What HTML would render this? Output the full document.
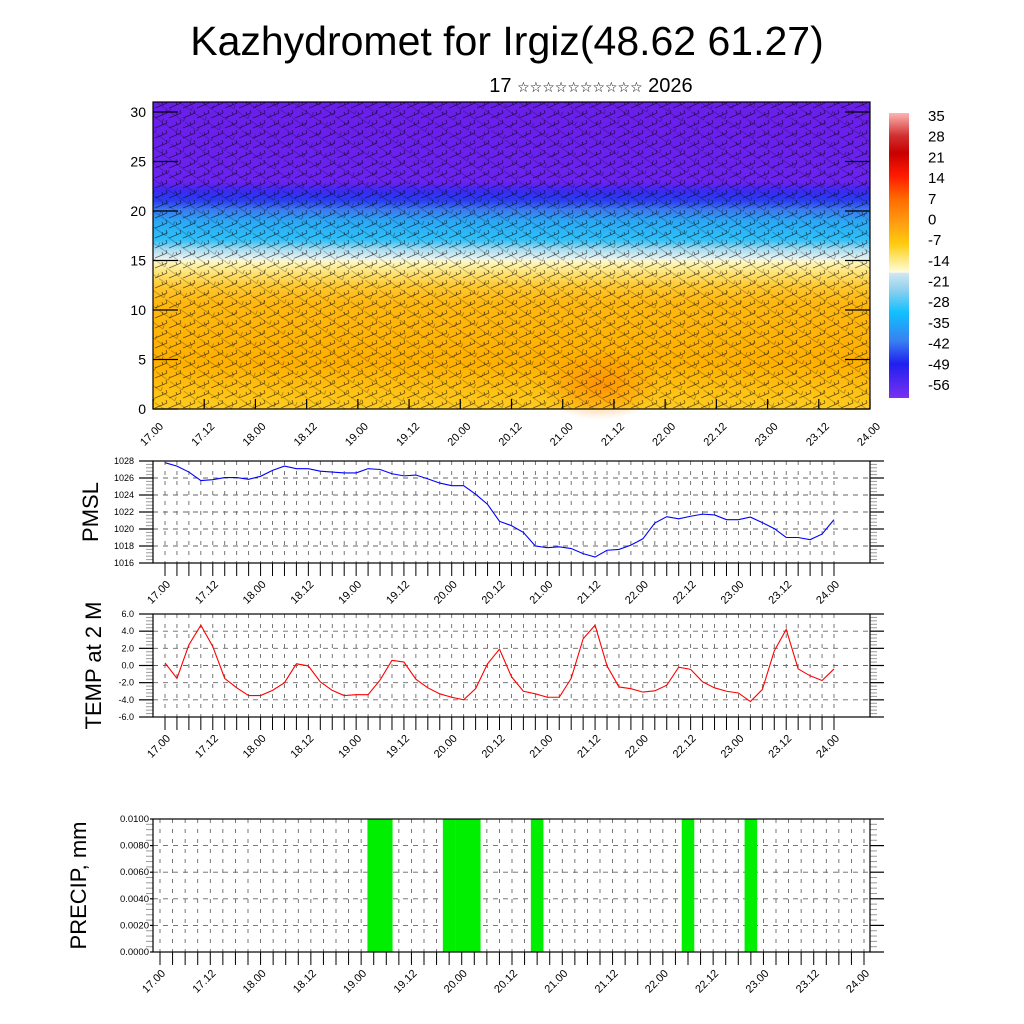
<!DOCTYPE html>
<html><head><meta charset="utf-8"><style>
body{margin:0;background:#fff;}
svg{display:block;font-family:"Liberation Sans","DejaVu Sans",sans-serif;}
</style></head><body>
<svg id="chart" width="1024" height="1024" viewBox="0 0 1024 1024" xmlns="http://www.w3.org/2000/svg">
<defs>
<linearGradient id="tgrad" x1="0" y1="0" x2="0" y2="1">
<stop offset="0" stop-color="#6a1fe8"/><stop offset="0.26" stop-color="#6a22ee"/>
<stop offset="0.29" stop-color="#3a2af0"/><stop offset="0.32" stop-color="#2a3cf0"/>
<stop offset="0.35" stop-color="#3c78ee"/><stop offset="0.39" stop-color="#2aa8f5"/>
<stop offset="0.45" stop-color="#30c0f8"/><stop offset="0.48" stop-color="#a8dcf0"/>
<stop offset="0.51" stop-color="#e8f2f0"/><stop offset="0.52" stop-color="#fff8c0"/>
<stop offset="0.55" stop-color="#ffe680"/><stop offset="0.6" stop-color="#ffc830"/>
<stop offset="0.65" stop-color="#ffb812"/><stop offset="0.85" stop-color="#ffb000"/>
<stop offset="1" stop-color="#ffcc20"/>
</linearGradient>
<linearGradient id="cgrad" x1="0" y1="0" x2="0" y2="1">
<stop offset="0" stop-color="#ffb4b4"/><stop offset="0.08" stop-color="#d03030"/>
<stop offset="0.14" stop-color="#c80000"/><stop offset="0.22" stop-color="#ff1a00"/>
<stop offset="0.3" stop-color="#ff6a00"/><stop offset="0.38" stop-color="#ff9a10"/>
<stop offset="0.46" stop-color="#ffcc10"/><stop offset="0.53" stop-color="#fff0a0"/>
<stop offset="0.56" stop-color="#fffce0"/><stop offset="0.561" stop-color="#d0e8f4"/>
<stop offset="0.62" stop-color="#90d0ee"/><stop offset="0.7" stop-color="#10c0ff"/>
<stop offset="0.8" stop-color="#3880f0"/><stop offset="0.88" stop-color="#2020f0"/>
<stop offset="1" stop-color="#7a30f0"/>
</linearGradient>
<pattern id="barbs" width="14" height="10" patternUnits="userSpaceOnUse">
<path d="M1 8 L13 3 M13 3 L12 0 M9 5 L8 2" stroke="#000" stroke-width="0.8" fill="none" opacity="0.6"/>
</pattern>
<pattern id="barbs2" width="17" height="13" patternUnits="userSpaceOnUse" patternTransform="rotate(35)">
<path d="M1 7 L16 7 M16 7 L15 3" stroke="#000" stroke-width="0.6" fill="none" opacity="0.45"/>
</pattern>
<radialGradient id="blob"><stop offset="0" stop-color="#ff8800" stop-opacity="0.8"/><stop offset="1" stop-color="#ff8800" stop-opacity="0"/></radialGradient>
</defs>
<text x="507" y="55" font-size="41" text-anchor="middle">Kazhydromet for Irgiz(48.62 61.27)</text>
<text x="591" y="92" font-size="20" text-anchor="middle">17 <tspan font-size="14">☆☆☆☆☆☆☆☆☆☆</tspan> 2026</text>
<g id="top">
<rect x="153" y="102" width="717" height="307" fill="url(#tgrad)"/>
<ellipse cx="600" cy="385" rx="60" ry="35" fill="url(#blob)"/>
<rect x="153" y="102" width="717" height="307" fill="url(#barbs)"/>
<rect x="153" y="102" width="717" height="307" fill="url(#barbs2)"/>
<rect x="153" y="102" width="717" height="307" fill="none" stroke="#000" stroke-width="1.2"/>
</g>
<g>
<rect x="889" y="113" width="20" height="285" fill="url(#cgrad)"/>
</g>
<g id="dyn"></g>
</svg>
<script>
const times=['17.00','17.12','18.00','18.12','19.00','19.12','20.00','20.12','21.00','21.12','22.00','22.12','23.00','23.12','24.00'];
const heightTicks=[0,5,10,15,20,25,30];
const cbLabels=['35','28','21','14','7','0','-7','-14','-21','-28','-35','-42','-49','-56'];
const pmsl=[1027.8,1027.4,1026.7,1025.7,1025.8,1026.05,1026.05,1025.85,1026.2,1026.9,1027.4,1027.1,1027.1,1026.8,1026.7,1026.6,1026.6,1027.1,1027.0,1026.5,1026.25,1026.35,1025.9,1025.4,1025.1,1025.1,1024.1,1022.9,1020.9,1020.4,1019.6,1018.0,1017.8,1017.9,1017.7,1017.1,1016.7,1017.5,1017.6,1018.1,1018.85,1020.7,1021.45,1021.2,1021.5,1021.75,1021.65,1021.1,1021.1,1021.4,1020.75,1020.05,1019.0,1019.0,1018.75,1019.4,1021.1];
const pmslTicks=[1016,1018,1020,1022,1024,1026,1028];
const temp=[0.3,-1.5,2.4,4.7,2.2,-1.5,-2.6,-3.5,-3.5,-2.9,-2.0,0.2,-0.05,-1.9,-2.9,-3.5,-3.4,-3.4,-1.7,0.6,0.4,-1.6,-2.6,-3.3,-3.7,-4.0,-2.7,0.2,1.9,-1.3,-3.0,-3.3,-3.7,-3.7,-1.5,3.1,4.7,-0.05,-2.5,-2.7,-3.1,-2.95,-2.3,-0.2,-0.45,-1.9,-2.6,-3.0,-3.2,-4.2,-2.8,1.7,4.2,-0.4,-1.2,-1.75,-0.4];
const tempTicks=['-6.0','-4.0','-2.0','0.0','2.0','4.0','6.0'];
const precip=[0,0,0,0,0,0,0,0,0,0,0,0,0,0,0,0,0,0.02,0.02,0,0,0,0,0.02,0.02,0.02,0,0,0,0,0.02,0,0,0,0,0,0,0,0,0,0,0,0.02,0,0,0,0,0.02,0,0,0,0,0,0,0,0,0];
const precipTicks=['0.0000','0.0020','0.0040','0.0060','0.0080','0.0100'];

const NS='http://www.w3.org/2000/svg';
const root=document.getElementById('dyn');
function mk(tag,attrs,parent){const e=document.createElementNS(NS,tag);for(const k in attrs)e.setAttribute(k,attrs[k]);(parent||root).appendChild(e);return e;}

const tx=v=>153+v*717/14, ty=v=>409-v*(409-112)/30;
heightTicks.forEach(h=>{
  const l=mk('line',{x1:153,x2:178,y1:ty(h),y2:ty(h),stroke:'#000','stroke-width':1.2});
  
  
  const r=mk('line',{x1:845,x2:870,y1:ty(h),y2:ty(h),stroke:'#000','stroke-width':1.2});
  
  
  const t=mk('text',{x:146,y:ty(h)+5,'font-size':14,'text-anchor':'end'});t.textContent=h;
  
  
});
function timeLabels(x0,x1,y,n,dx){
  times.forEach((s,k)=>{
    const x=x0+k*(x1-x0)/(times.length-1)+dx;
    const t=mk('text',{x:x,y:y,'font-size':n,'text-anchor':'end',transform:`rotate(-45 ${x} ${y})`});t.textContent=s;
    
    
  });
}
times.forEach((s,k)=>{
  const l=mk('line',{x1:tx(k),x2:tx(k),y1:409,y2:399,stroke:'#000','stroke-width':1.2});
  
  
});
timeLabels(153,870,427,11,11);
cbLabels.forEach((s,k)=>{
  const t=mk('text',{x:928,y:121+k*(385-116)/13,'font-size':15});t.textContent=s;
  
  
});

function panel(o){
  const g=mk('g',{});
  
  
  const N=57;
  const X=i=>o.ax0+i*(o.ax1-o.ax0)/(N-1);
  const Y=v=>o.bot-(v-o.min)*(o.bot-o.top)/(o.max-o.min);
  mk('rect',{x:153,y:o.top,width:717,height:o.bot-o.top,fill:'#fff'},g);
  for(let i=0;i<N;i++){
    const v=mk('line',{x1:X(i),x2:X(i),y1:o.top,y2:o.bot,stroke:'#555','stroke-width':0.8,'stroke-dasharray':'4 6'},g);
    
    
    const t=mk('line',{x1:X(i),x2:X(i),y1:o.bot,y2:o.bot+13,stroke:'#000','stroke-width':1},g);
    
    
  }
  o.ticks.forEach((lab,k)=>{
    const v=o.min+k*(o.max-o.min)/(o.ticks.length-1);const y=Y(v);
    if(k>0&&k<o.ticks.length-1){const h=mk('line',{x1:153,x2:870,y1:y,y2:y,stroke:'#666','stroke-width':0.9,'stroke-dasharray':'5 5'},g);
      
      }
    const a=mk('line',{x1:o.tickx,x2:153,y1:y,y2:y,stroke:'#000','stroke-width':1.2},g);
    
    
    const b=mk('line',{x1:870,x2:884,y1:y,y2:y,stroke:'#000','stroke-width':1.2},g);
    
    
    if(k<o.ticks.length-1){for(let m=1;m<5;m++){const ym=y-m*(o.bot-o.top)/(o.ticks.length-1)/5;
      mk('line',{x1:146,x2:153,y1:ym,y2:ym,stroke:'#999','stroke-width':1},g);
      mk('line',{x1:870,x2:877,y1:ym,y2:ym,stroke:'#999','stroke-width':1},g);}}
    const t=mk('text',{x:o.labx,y:y+3,'font-size':o.fs,'text-anchor':'end'},g);t.textContent=lab;
    
    
  });
  if(o.bars){
    const w=(o.ax1-o.ax0)/(N-1);
    o.bars.forEach((v,i)=>{if(v<=0)return;
      const top=Y(Math.min(v,o.max));
      const r=mk('rect',{x:X(i)-w/2,y:top,width:w,height:o.bot-top,fill:'#00ee00'},g);
      
      });
  }
  if(o.data){
    const p=mk('polyline',{points:o.data.map((v,i)=>X(i)+','+Y(v)).join(' '),fill:'none',stroke:o.color,'stroke-width':1.1},g);
    
    
  }
  mk('rect',{x:153,y:o.top,width:717,height:o.bot-o.top,fill:'none',stroke:'#000','stroke-width':1.2},g);
  timeLabels(o.ax0,o.ax1,o.bot+22,11,6);
  const yt=mk('text',{x:o.tx,y:(o.top+o.bot)/2,'font-size':22,'text-anchor':'middle',transform:`rotate(-90 ${o.tx} ${(o.top+o.bot)/2})`},g);
  yt.textContent=o.title;
  
  
}
panel({name:'pmsl-panel',lineName:'pmsl-line',top:461,bot:563,min:1016,max:1028,ticks:pmslTicks.map(String),data:pmsl,color:'#0000ff',ax0:165,ax1:834,labx:134,fs:9,tickx:139,tx:98,title:'PMSL'});
panel({name:'temp-panel',lineName:'temp-line',top:614,bot:717,min:-6,max:6,ticks:tempTicks,data:temp,color:'#ff0000',ax0:165,ax1:834,labx:134,fs:9,tickx:139,tx:101,title:'TEMP at 2 M'});
panel({name:'precip-panel',top:819,bot:952,min:0,max:0.01,ticks:precipTicks,bars:precip,ax0:160,ax1:864,labx:149,fs:9.5,tickx:150,tx:86,title:'PRECIP, mm'});
</script>
</body></html>
